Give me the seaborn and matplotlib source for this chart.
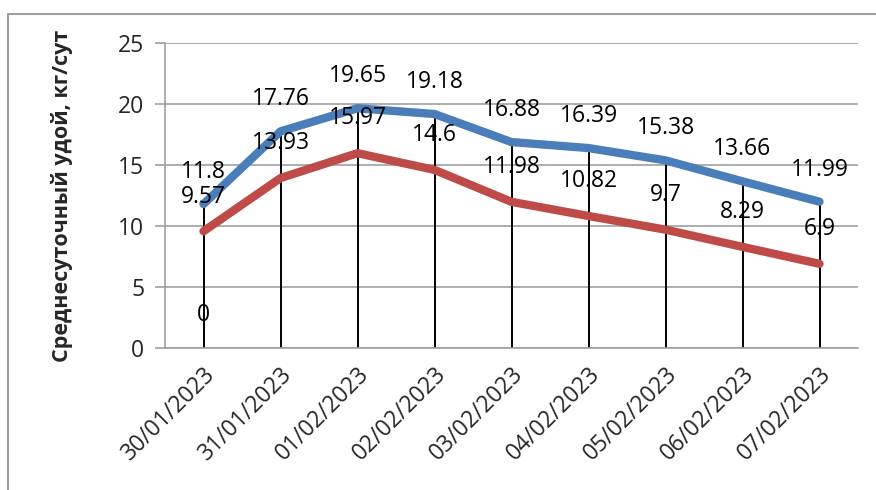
import matplotlib
matplotlib.use("Agg")
import matplotlib.pyplot as plt
import seaborn as sns
import pandas as pd
import numpy as np
from matplotlib.patches import Rectangle

dates = ["30/01/2023", "31/01/2023", "01/02/2023", "02/02/2023", "03/02/2023",
         "04/02/2023", "05/02/2023", "06/02/2023", "07/02/2023"]
blue_vals = [11.8, 17.76, 19.65, 19.18, 16.88, 16.39, 15.38, 13.66, 11.99]
red_vals = [9.57, 13.93, 15.97, 14.6, 11.98, 10.82, 9.7, 8.29, 6.9]
blue_labels = ["11.8", "17.76", "19.65", "19.18", "16.88", "16.39", "15.38", "13.66", "11.99"]
red_labels = ["9.57", "13.93", "15.97", "14.6", "11.98", "10.82", "9.7", "8.29", "6.9"]
yticks = [0, 5, 10, 15, 20, 25]
ylabel = "Среднесуточный удой, кг/сут"

sns.set_style("white")
plt.rcParams['font.family'] = ['Open Sans', 'DejaVu Sans']

FS = 16.5

fig = plt.figure(figsize=(8.76, 4.9), dpi=100)
ax = fig.add_axes([165/876, 1-348/490, (858-165)/876, (348-43)/490])

x = np.arange(len(dates))
df = pd.DataFrame({"x": np.concatenate([x, x]),
                   "val": blue_vals + red_vals,
                   "series": ["blue"] * len(x) + ["red"] * len(x)})

# drop lines
ax.vlines(x, 0, blue_vals, color="black", lw=1.4, zorder=1)

sns.lineplot(data=df, x="x", y="val", hue="series",
             palette={"blue": "#4a7ebb", "red": "#be4b48"},
             lw=6, legend=False, ax=ax, zorder=3, solid_capstyle="round")

for xi, v, lab in zip(x, blue_vals, blue_labels):
    ax.annotate(lab, (xi, v), xytext=(0, 23), textcoords="offset points",
                ha="center", va="center", fontsize=FS, color="black", zorder=5)
for xi, v, lab in zip(x, red_vals, red_labels):
    ax.annotate(lab, (xi, v), xytext=(0, 25), textcoords="offset points",
                ha="center", va="center", fontsize=FS, color="black", zorder=5)
ax.annotate("0", (0, 0), xytext=(0, 24), textcoords="offset points",
            ha="center", va="center", fontsize=FS, color="black", zorder=5)

ax.set_xlim(-0.5, len(dates) - 0.5)
ax.set_ylim(0, 25)
ax.set_yticks(yticks)
ax.set_yticklabels([str(t) for t in yticks], fontsize=FS)
ax.set_xticks(x)
ax.set_xticklabels(dates, rotation=45, ha="right", rotation_mode="anchor", fontsize=FS)
ax.tick_params(axis="x", length=0, pad=10)
ax.tick_params(axis="y", length=7, color="#a0a0a0", width=1.2, pad=8, left=True)
ax.grid(axis="y", color="#a0a0a0", lw=1.2)
ax.set_axisbelow(True)
for s in ["top", "right"]:
    ax.spines[s].set_visible(False)
ax.spines["left"].set_color("#a0a0a0")
ax.spines["left"].set_linewidth(1.2)
ax.spines["bottom"].set_color("#a0a0a0")
ax.spines["bottom"].set_linewidth(1.2)
ax.set_xlabel("")
ax.set_ylabel(ylabel, fontsize=15.5, fontweight="bold", labelpad=32)

fig.patches.append(Rectangle((8/876, -0.1), 1.2, 1 - 14/490 + 0.1, transform=fig.transFigure,
                             fill=False, edgecolor="#8c8c8c", lw=1.2))

fig.savefig("out.png", dpi=100)
